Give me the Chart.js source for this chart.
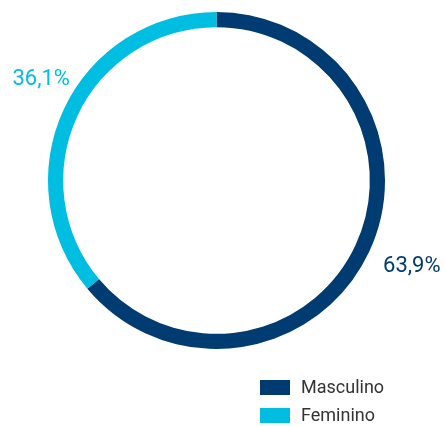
<!DOCTYPE html>
<html>
<head>
<meta charset="utf-8">
<script src="https://cdn.jsdelivr.net/npm/chart.js@4"></script>
<style>
  html, body { margin: 0; padding: 0; background: #fff; }
  #wrap { width: 445px; height: 426px; }
</style>
</head>
<body>
<div id="wrap"><canvas id="myChart" width="445" height="426"></canvas></div>
<script>
const categories = ['Masculino', 'Feminino'];
const values = [63.9, 36.1];
const valueLabels = ['63,9%', '36,1%'];
const colors = ['#003B71', '#00BDE2'];

// labels de pourcentage à côté de chaque arc
const pctLabels = {
  id: 'pctLabels',
  afterDatasetsDraw(chart, args, opts) {
    const ctx = chart.ctx;
    const meta = chart.getDatasetMeta(0);
    ctx.save();
    ctx.font = opts.font;
    ctx.textAlign = 'center';
    ctx.textBaseline = 'middle';
    meta.data.forEach((arc, i) => {
      const {x, y, startAngle, endAngle, outerRadius} = arc.getProps(['x', 'y', 'startAngle', 'endAngle', 'outerRadius'], true);
      const mid = (startAngle + endAngle) / 2;
      const r = outerRadius + opts.gap;
      const nudge = opts.nudge[i] || [0, 0];
      ctx.fillStyle = colors[i];
      ctx.fillText(valueLabels[i], x + Math.cos(mid) * r + nudge[0], y + Math.sin(mid) * r + nudge[1]);
    });
    ctx.restore();
  }
};

// légende verticale en bas à droite
const sideLegend = {
  id: 'sideLegend',
  afterDraw(chart, args, opts) {
    const ctx = chart.ctx;
    const area = chart.chartArea;
    ctx.save();
    ctx.font = opts.font;
    ctx.textBaseline = 'middle';
    categories.forEach((label, i) => {
      const bx = area.right + opts.dx;
      const by = area.bottom + opts.dy + i * opts.lineHeight;
      ctx.fillStyle = colors[i];
      ctx.fillRect(bx, by, opts.boxWidth, opts.boxHeight);
      ctx.fillStyle = opts.color;
      ctx.fillText(label, bx + opts.boxWidth + 11, by + opts.boxHeight / 2 + 1);
    });
    ctx.restore();
  }
};

let myChart;
const setup = () => {
  const ctxt = document.getElementById('myChart').getContext('2d');
  myChart = new Chart(ctxt, {
    type: 'doughnut',
    data: {
      labels: categories,
      datasets: [{
        data: values,
        backgroundColor: colors,
        borderWidth: 0
      }]
    },
    options: {
      responsive: false,
      animation: false,
      cutout: '91%',
      layout: { padding: { left: 48, top: 12, right: 60, bottom: 77 } },
      plugins: {
        legend: { display: false },
        tooltip: { enabled: false },
        pctLabels: { font: '22px Roboto', gap: 36, nudge: [[10, 0], [10, -15]] },
        sideLegend: {
          font: '18px Roboto', color: '#333333',
          dx: -125, dy: 31, lineHeight: 28, boxWidth: 30, boxHeight: 15
        }
      }
    },
    plugins: [pctLabels, sideLegend]
  });
};

window.addEventListener('DOMContentLoaded', setup);
</script>
</body>
</html>
